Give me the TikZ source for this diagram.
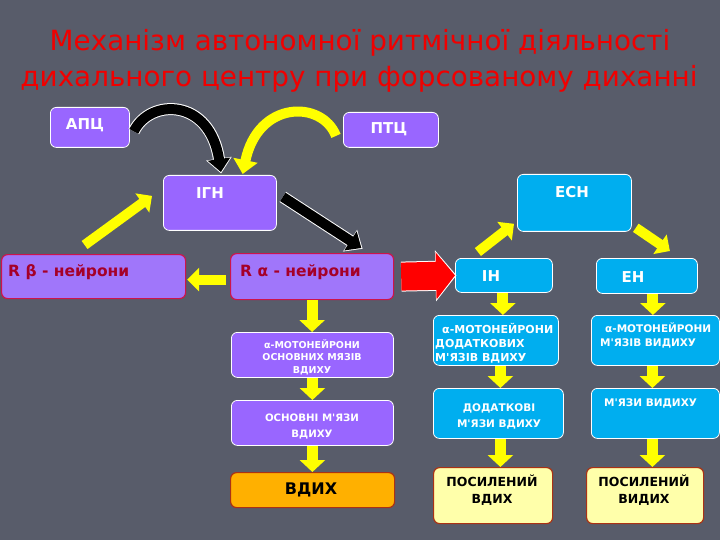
\documentclass[tikz,border=0pt]{standalone}
\usepackage{fontspec}
\setmainfont{DejaVu Sans}[Ligatures=TeXOff]
\usetikzlibrary{arrows.meta,calc}
\definecolor{bg}{RGB}{88,92,106}
\definecolor{purp}{RGB}{153,102,255}
\definecolor{purpR}{RGB}{160,118,250}
\definecolor{sky}{RGB}{0,174,239}
\definecolor{ttl}{RGB}{240,0,0}
\definecolor{dred}{RGB}{165,0,40}
\definecolor{crim}{RGB}{205,20,75}
\definecolor{orng}{RGB}{255,176,0}
\definecolor{lyel}{RGB}{255,255,170}
\definecolor{brn}{RGB}{170,50,20}
\definecolor{yel}{RGB}{255,255,0}
\begin{document}
\begin{tikzpicture}[x=1pt,y=-1pt,
  box/.style={rounded corners=6pt, draw=white, line width=0.8pt, inner sep=0pt, anchor=north west},
  pbox/.style={box, fill=purp},
  bbox/.style={box, fill=sky},
  rbox/.style={box, fill=purpR, draw=crim, line width=1.2pt},
  obox/.style={box, fill=orng, draw=brn, line width=1.2pt},
  ybox/.style={box, fill=lyel, draw=brn, line width=1.2pt},
  wt/.style={text=white, inner sep=0pt, font=\bfseries\fontsize{15}{18}\selectfont},
  rt/.style={text=dred, inner sep=0pt, anchor=west, font=\bfseries\fontsize{15.5}{18}\selectfont},
  st/.style={text=white, inner sep=0pt, font=\bfseries\fontsize{#1}{15}\selectfont},
  ttlt/.style={text=ttl, inner sep=0pt, anchor=base, font=\fontsize{27.8}{32}\selectfont},
  yarr/.style={yel, line width=11pt, -{Triangle[length=12pt,width=25pt]}},
  yarrd/.style={yel, line width=10pt, -{Triangle[length=12pt,width=23pt]}},
  bkarr/.style={black, line width=10pt, -{Triangle[length=13pt,width=22pt]},
     preaction={draw=white, line width=12pt, -{Triangle[length=15pt,width=25pt]}, shorten >=-1.5pt}},
  redarr/.style={red, line width=28pt, -{Triangle[length=19pt,width=46pt]},
     preaction={draw=white, line width=30pt, -{Triangle[length=21pt,width=50pt]}, shorten >=-1.5pt}}
]
\fill[bg] (0,0) rectangle (720,540);
\useasboundingbox (0,0) rectangle (720,540);

% title
\node[ttlt] (t1) at (360,51) {Механізм автономної ритмічної діяльності};
\node[ttlt] (t2) at (359,87) {дихального центру при форсованому диханні};

% boxes
\node[pbox, minimum width=79pt, minimum height=40pt] (apc) at (50,107) {};
\node[pbox, minimum width=95pt, minimum height=35pt] (ptc) at (343,112) {};
\node[pbox, minimum width=113pt, minimum height=55pt] (ign) at (163,175) {};
\node[bbox, minimum width=114pt, minimum height=57pt] (esn) at (517,174) {};
\node[bbox, minimum width=97pt, minimum height=34pt] (inn) at (455,258) {};
\node[bbox, minimum width=101pt, minimum height=35pt] (enn) at (596,258) {};
\node[rbox, minimum width=184pt, minimum height=44pt] (rb) at (1,254) {};
\node[rbox, minimum width=163pt, minimum height=46pt] (ra) at (230,253) {};
\node[pbox, minimum width=162pt, minimum height=45pt] (am1) at (231,332) {};
\node[pbox, minimum width=162pt, minimum height=45pt] (om) at (231,400) {};
\node[obox, minimum width=164pt, minimum height=35pt] (vd) at (230,472) {};
\node[bbox, minimum width=125pt, minimum height=50pt] (am2) at (433,315) {};
\node[bbox, minimum width=130pt, minimum height=50pt] (dm) at (433,388) {};
\node[ybox, minimum width=119pt, minimum height=56pt] (pv) at (433,467) {};
\node[bbox, minimum width=128pt, minimum height=50pt] (am3) at (591,315) {};
\node[bbox, minimum width=128pt, minimum height=50pt] (mv) at (591,388) {};
\node[ybox, minimum width=117pt, minimum height=56pt] (pvy) at (586,467) {};

% texts
\node[wt] (apcT) at (85,125) {АПЦ};
\node[wt] (ptcT) at (389,129) {ПТЦ};
\node[wt] (ignT) at (210,193) {ІГН};
\node[wt] (esnT) at (572,192) {ЕСН};
\node[wt] (innT) at (491,276) {ІН};
\node[wt] (ennT) at (633,277) {ЕН};
\node[rt] (rbT) at (8,272) {R β - нейрони};
\node[rt] (raT) at (240,272) {R α - нейрони};
\node[st=9.5, align=center, font=\bfseries\fontsize{9.5}{12.5}\selectfont] (am1T) at (312,357) {α-МОТОНЕЙРОНИ\\ОСНОВНИХ МЯЗІВ\\ВДИХУ};
\node[st=10.2, align=center, font=\bfseries\fontsize{10.2}{16}\selectfont] (omT) at (312,427) {ОСНОВНІ М'ЯЗИ\\ВДИХУ};
\node[inner sep=0pt, font=\bfseries\fontsize{16}{19}\selectfont] (vdT) at (311,490) {ВДИХ};
\node[st=11, align=left, anchor=west, font=\bfseries\fontsize{11}{13.8}\selectfont] (am2T) at (435,343) {\hspace*{7pt}α-МОТОНЕЙРОНИ\\ДОДАТКОВИХ\\М'ЯЗІВ ВДИХУ};
\node[st=10.5, align=center, font=\bfseries\fontsize{10.5}{16}\selectfont] (dmT) at (499,416) {ДОДАТКОВІ\\М'ЯЗИ ВДИХУ};
\node[st=10.5, align=left, anchor=west, font=\bfseries\fontsize{10.5}{13.5}\selectfont] (am3T) at (600,335.5) {\hspace*{5pt}α-МОТОНЕЙРОНИ\\М'ЯЗІВ ВИДИХУ};
\node[st=10.5, anchor=west] (mvT) at (604,403) {М'ЯЗИ ВИДИХУ};
\node[inner sep=0pt, align=center, font=\bfseries\fontsize{12.5}{17}\selectfont] (pvT) at (492,490) {ПОСИЛЕНИЙ\\ВДИХ};
\node[inner sep=0pt, align=center, font=\bfseries\fontsize{12.5}{17}\selectfont] (pvyT) at (644,490) {ПОСИЛЕНИЙ\\ВИДИХ};

% curved arrows
\draw[bkarr] ($(apc.east)+(4,4)$) .. controls (150,98) and (210,98) .. ($(ign.north)+(1,-3)$);
\draw[yel, line width=10pt, -{Triangle[length=14pt,width=24pt]}] ($(ptc.west)+(-7,6)$) .. controls (322,100) and (258,100) .. ($(ign.north)!0.4!(ign.north east)+(0,-1)$);

% straight arrows
\draw[bkarr] ($(ign.east)+(6,-6)$) -- ($(ra.north)!0.6!(ra.north east)+(0,-5)$);
\draw[yarrd] ($(rb.north)+(-9,-9)$) -- ($(ign.west)+(-11,-7)$);
\draw[yarrd] ($(ra.west)+(-4,3)$) -- ($(rb.east)+(1,3)$);
\draw[redarr] ($(ra.east)+(7,0)$) -- (inn.west);
\draw[yarrd] ($(inn.north)+(-26,-6)$) -- ($(esn.south west)+(-3,-8)$);
\draw[yarrd] ($(esn.south east)+(4,-4)$) -- ($(enn.north)+(23,-7)$);

% down arrows
\draw[yarr] (ra.south) -- (ra.south |- am1.north);
\draw[yarr] (am1.south) -- (am1.south |- om.north);
\draw[yarr] (om.south) -- (om.south |- vd.north);
\draw[yarr] ($(inn.south)+(-1,0)$) -- ($(inn.south |- am2.north)+(-1,0)$);
\draw[yarr] ($(dm.north |- am2.south)+(2,0)$) -- ($(dm.north)+(2,0)$);
\draw[yarr] ($(dm.south)+(2,0)$) -- ($(dm.south |- pv.north)+(2,0)$);
\draw[yarr] ($(enn.south)+(6,0)$) -- ($(enn.south |- am3.north)+(6,0)$);
\draw[yarr] ($(am3.south)+(-3,0)$) -- ($(am3.south |- mv.north)+(-3,0)$);
\draw[yarr] ($(mv.south)+(-3,0)$) -- ($(mv.south |- pvy.north)+(-3,0)$);
\end{tikzpicture}
\end{document}
